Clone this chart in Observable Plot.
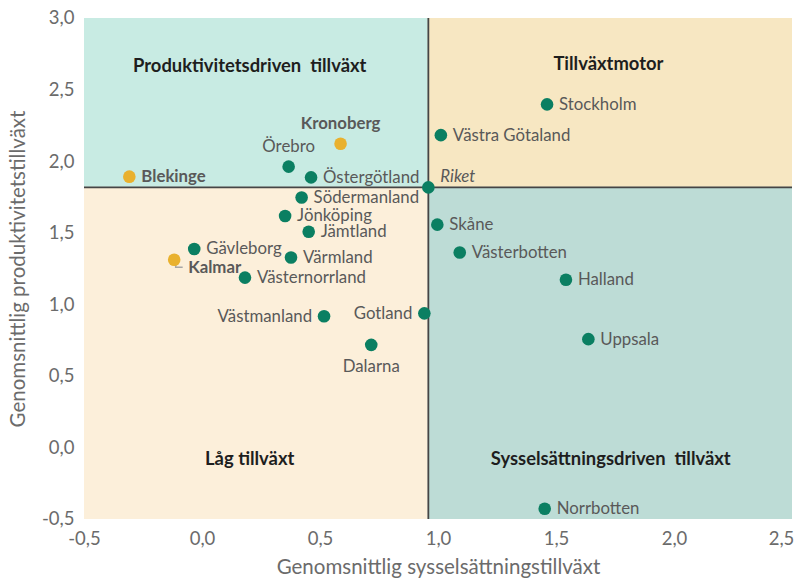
<!DOCTYPE html>
<html><head><meta charset="utf-8">
<script src="https://cdn.jsdelivr.net/npm/d3@7"></script>
<script src="https://cdn.jsdelivr.net/npm/@observablehq/plot@0.6"></script>
<style>
body{margin:0;background:#fff;}
#chart svg{display:block;}
</style>
</head><body><div id="chart"></div>
<script>
// ---- data ----
const regions = ["Stockholm","Västra Götaland","Riket","Skåne","Västerbotten","Halland","Uppsala","Norrbotten","Gotland","Dalarna","Västmanland","Kronoberg","Örebro","Östergötland","Blekinge","Södermanland","Jönköping","Jämtland","Gävleborg","Kalmar","Värmland","Västernorrland"];
const employmentGrowth = [1.46, 1.01, 0.957, 0.995, 1.09, 1.54, 1.635, 1.45, 0.94, 0.715, 0.515, 0.585, 0.365, 0.46, -0.31, 0.42, 0.35, 0.45, -0.035, -0.12, 0.375, 0.18];
const productivityGrowth = [2.40, 2.185, 1.82, 1.56, 1.365, 1.175, 0.76, -0.425, 0.94, 0.72, 0.92, 2.125, 1.965, 1.89, 1.895, 1.75, 1.62, 1.51, 1.39, 1.315, 1.33, 1.19];
const highlighted = ["Kronoberg","Blekinge","Kalmar"];
const nationalName = "Riket";
const xTicks = [-0.5, 0, 0.5, 1.0, 1.5, 2.0, 2.5];
const yTicks = [-0.5, 0, 0.5, 1.0, 1.5, 2.0, 2.5, 3.0];
const quadrantNames = ["Produktivitetsdriven  tillväxt", "Tillväxtmotor", "Låg tillväxt", "Sysselsättningsdriven  tillväxt"];
const quadrantLabelX = [0.2, 1.72, 0.2, 1.73];
const quadrantLabelY = [2.665, 2.68, -0.08, -0.075];
const xTitle = "Genomsnittlig sysselsättningstillväxt";
const yTitle = "Genomsnittlig produktivitetstillväxt";

// ---- layout / style config ----
const placement = {"Örebro":"above","Kronoberg":"above","Dalarna":"below","Västmanland":"left","Gotland":"left","Kalmar":"belowRight","Riket":"aboveRight"};
const quadrantFill = ["#c8ebe3", "#f7e7c2", "#fcefda", "#bddcd6"];
const FONT = "Lato, 'Open Sans', sans-serif";
const GREEN = "#0b7f62", ORANGE = "#e9b12e", NAME = "#595959", AXIS = "#6b6b6b";

const xDom = [xTicks[0], xTicks[xTicks.length-1]];
const yDom = [yTicks[0], yTicks[yTicks.length-1]];
const rows = regions.map((name,i)=>({name, x: employmentGrowth[i], y: productivityGrowth[i],
  hl: highlighted.includes(name), place: placement[name] || "right"}));
const riket = rows.find(d=>d.name===nationalName);
const quads = [
  {x1:xDom[0], x2:riket.x, y1:riket.y, y2:yDom[1], f:quadrantFill[0]},
  {x1:riket.x, x2:xDom[1], y1:riket.y, y2:yDom[1], f:quadrantFill[1]},
  {x1:xDom[0], x2:riket.x, y1:yDom[0], y2:riket.y, f:quadrantFill[2]},
  {x1:riket.x, x2:xDom[1], y1:yDom[0], y2:riket.y, f:quadrantFill[3]}
];
const qLabels = quadrantNames.map((t,i)=>({t, x:quadrantLabelX[i], y:quadrantLabelY[i]}));
const fmt = d => d.toFixed(1).replace(".", ",");

const leader = {draw(ctx){ ctx.moveTo(1.5,4.5); ctx.lineTo(1.5,7.5); ctx.lineTo(8.5,7.5); }};

const placeOpts = {
  right: {textAnchor:"start", dx: 12},
  left: {textAnchor:"end", dx: -12},
  above: {textAnchor:"middle", dy: -20},
  below: {textAnchor:"middle", dy: 22},
  belowRight: {textAnchor:"start", dx: 14, dy: 8},
  aboveRight: {textAnchor:"start", dx: 12, dy: -11}
};
const nameMarks = [];
for (const [p, o] of Object.entries(placeOpts)) {
  for (const kind of ["plain","bold","italic"]) {
    const data = rows.filter(d => d.place === p &&
      (kind === "bold" ? d.hl : kind === "italic" ? d.name === nationalName : (!d.hl && d.name !== nationalName)));
    if (!data.length) continue;
    nameMarks.push(Plot.text(data, {x:"x", y:"y", text:"name", fill: NAME, fontSize: 16.8,
      fontWeight: kind === "bold" ? "bold" : "normal", fontStyle: kind === "italic" ? "italic" : "normal", ...o}));
  }
}

const chart = Plot.plot({
  width: 802, height: 583,
  marginLeft: 84, marginRight: 10, marginTop: 18, marginBottom: 64,
  style: {fontFamily: FONT, color: AXIS, background: "#fff"},
  x: {domain: xDom},
  y: {domain: yDom},
  marks: [
    Plot.rect(quads, {x1:"x1", x2:"x2", y1:"y1", y2:"y2", fill: d=>d.f}),
    Plot.ruleY([riket.y], {stroke:"#454545", strokeWidth:1.8}),
    Plot.ruleX([riket.x], {stroke:"#454545", strokeWidth:1.8}),
    Plot.axisX({ticks: xTicks.slice(0, -1), tickFormat: fmt, tickSize: 0, tickPadding: 12, fontSize: 18.5, label: null}),
    Plot.axisX({ticks: xTicks.slice(-1), tickFormat: fmt, tickSize: 0, tickPadding: 12, fontSize: 18.5, label: null, dx: -11}),
    Plot.axisY({ticks: yTicks, tickFormat: fmt, tickSize: 0, tickPadding: 10, fontSize: 18.5, label: null}),
    Plot.text([xTitle], {frameAnchor:"bottom", dy: 54, fontSize: 20.5, fill: AXIS, textAnchor:"middle"}),
    Plot.text([yTitle], {frameAnchor:"left", dx: -66, rotate: -90, fontSize: 20.5, fill: AXIS, textAnchor:"middle"}),
    Plot.text(qLabels, {x:"x", y:"y", text:"t", fontSize: 18.4, fontWeight:"bold", fill:"#1e1e1e"}),
    Plot.dot(rows.filter(d=>d.name==="Kalmar"), {x:"x", y:"y", symbol: leader, r: 6, fill:"none", stroke:"#a6a6a6", strokeWidth:1.5}),
    Plot.dot(rows, {x:"x", y:"y", r: 6.3, fill: d=>d.hl?ORANGE:GREEN}),
    ...nameMarks
  ]
});
document.getElementById("chart").appendChild(chart);
</script>
</body></html>
